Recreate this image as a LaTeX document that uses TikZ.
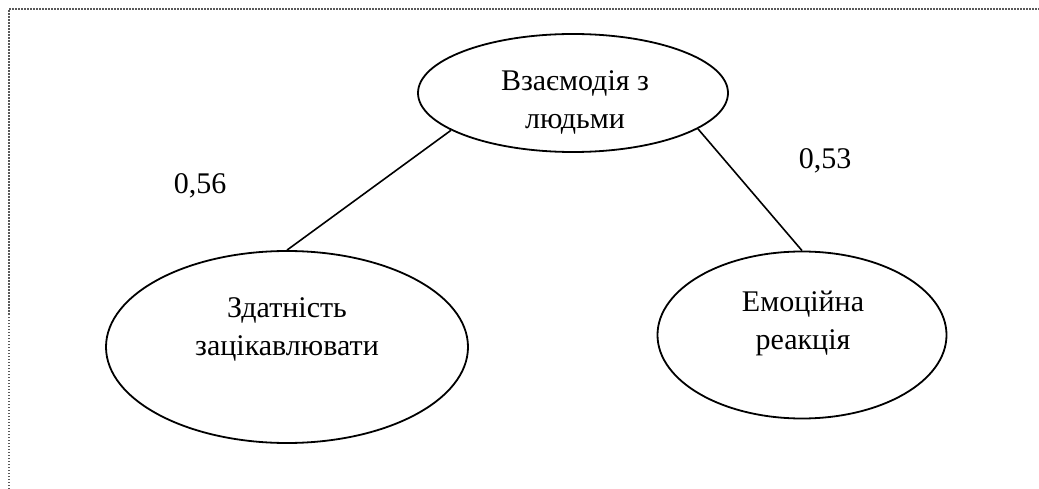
\documentclass[tikz,border=0pt]{standalone}
\usepackage{fontspec}
\setmainfont{Liberation Serif}[Ligatures=TeX]
\newfontfamily\tnr{Liberation Serif}
\usetikzlibrary{shapes.geometric}
\begin{document}
\begin{tikzpicture}[x=1pt,y=-1pt,
  oval/.style={draw,ellipse,line width=1.8pt,inner sep=0pt},
  txt/.style={align=center,font=\tnr\fontsize{30}{38}\selectfont,inner sep=0pt},
  num/.style={font=\tnr\fontsize{30}{32}\selectfont,inner sep=0pt},
  link/.style={line width=1.6pt},
  frame/.style={draw=black!65,line width=1.4pt,dash pattern=on 1.5pt off 1.5pt}]
\useasboundingbox (0,0) rectangle (1039,489);
% frame edges
\coordinate (fb) at (9,489);
\coordinate (fc) at (9,9);
\coordinate (fr) at (1039,9);
\draw[frame] (fb) -- (fc) -- (fr);
% ovals
\node[oval,minimum width=310pt,minimum height=118pt] (top) at (573,93) {};
\node[oval,minimum width=362pt,minimum height=192pt] (lft) at (287,347) {};
\node[oval,minimum width=289pt,minimum height=167pt] (rgt) at (802,335) {};
% captions
\node[txt] (ttop) at (575,102) {Взаємодія з\\людьми};
\node[txt] (tlft) at (287,329) {Здатність\\зацікавлювати};
\node[txt] (trgt) at (803,323) {Емоційна\\реакція};
% connectors
\draw[link] (top.197) -- (lft.north);
\draw[link] (top.344) -- (rgt.north);
% weights
\node[num] (w1) at (200,186) {0,56};
\node[num] (w2) at (825,161) {0,53};
\end{tikzpicture}
\end{document}
